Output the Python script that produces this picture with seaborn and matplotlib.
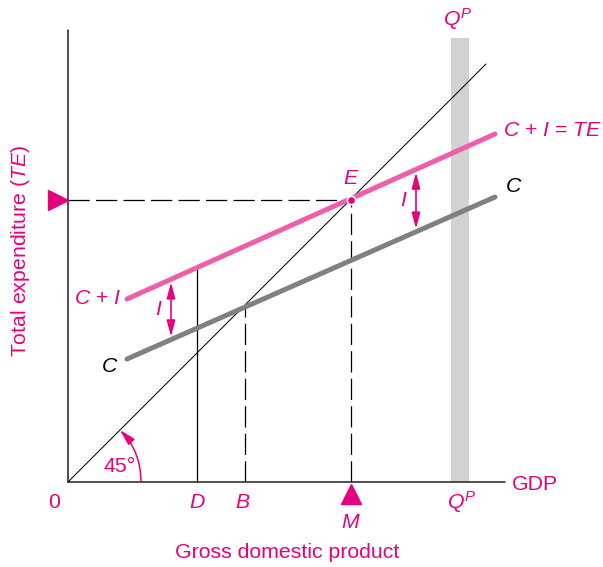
import matplotlib
matplotlib.use("Agg")
import matplotlib.pyplot as plt
import seaborn as sns

# values (units: GDP and spending, origin at 0)
gdp_ends = [59, 427]
c_plus_i = [183, 348]
consumption = [123, 285]
diag = [0, 418]
e_point = (283, 282)
b_level = 177
d_level = 129
qp_level = 392
x_labels = ["D", "B", "M"]

sns.set_style("white")
plt.rcParams["font.family"] = ["Liberation Sans", "DejaVu Sans"]
plt.rcParams["mathtext.fontset"] = "custom"
plt.rcParams["mathtext.rm"] = "Liberation Sans"
plt.rcParams["mathtext.it"] = "Liberation Sans:italic"

pink = "#ef5ea8"
mag = "#e6007e"
grey = "#808083"

fig = plt.figure(figsize=(6.03, 5.67), dpi=100)
ax = fig.add_axes([0, 0, 1, 1])
ax.set_xlim(-68, 535)
ax.set_ylim(-85, 482)
ax.axis("off")

# potential output band
ax.fill_between([qp_level - 9, qp_level + 9], 0, 444, color="#d1d2d4", lw=0, zorder=1)

# axes
ax.plot([0, 0], [0, 452], color="#231f20", lw=1.1, zorder=3)
ax.plot([0, 437], [0, 0], color="#231f20", lw=1.1, zorder=3)

# 45 degree line
sns.lineplot(x=diag, y=diag, ax=ax, color="black", lw=0.75, zorder=2)
sns.lineplot(x=gdp_ends, y=consumption, ax=ax, color=grey, lw=3.6, zorder=4)
sns.lineplot(x=gdp_ends, y=c_plus_i, ax=ax, color=pink, lw=3.6, zorder=5)


def line_at(series, x):
    slope = (series[1] - series[0]) / (gdp_ends[1] - gdp_ends[0])
    return series[0] + slope * (x - gdp_ends[0])


# D, B, M guide lines
ax.plot([d_level, d_level], [0, line_at(c_plus_i, d_level)], color="black", lw=0.9, zorder=2)
dash = dict(color="black", lw=0.9, dashes=(17, 5), zorder=2)
ax.plot([b_level, b_level], [0, b_level], **dash)
ax.plot([e_point[0], e_point[0]], [0, e_point[1]], **dash)
ax.plot([0, e_point[0]], [e_point[1], e_point[1]], **dash)

ax.plot(*e_point, "o", ms=6, mfc=mag, mec="white", mew=1.2, zorder=6)
ax.plot(-10, e_point[1], ">", ms=14, color=mag, clip_on=False, zorder=6)
ax.plot(e_point[0], -12, "^", ms=14, color=mag, clip_on=False, zorder=6)

fs = 15.3
head = "head_length=0.6,head_width=0.16"

# investment arrows
for xa, lx in [(103, 91), (348, 336)]:
    top = line_at(c_plus_i, xa) - 3
    bot = line_at(consumption, xa) + 3
    ax.annotate("", xy=(xa, bot), xytext=(xa, top),
                arrowprops=dict(arrowstyle="<|-|>," + head,
                                color=mag, lw=1.2, mutation_scale=16,
                                shrinkA=0, shrinkB=0))
    ax.text(lx, (top + bot) / 2, "$I$", color=mag, fontsize=fs, ha="center", va="center")

# 45 degree arc
ax.annotate("", xy=(52, 52), xytext=(73, 0),
            arrowprops=dict(arrowstyle="-|>," + head,
                            color=mag, lw=1.1, mutation_scale=16,
                            connectionstyle="arc3,rad=0.2", shrinkA=0, shrinkB=0))
ax.text(52, 15, "45°", color=mag, fontsize=fs, ha="center", va="center")

ax.text(30, 183, "$C$ + $I$", color=mag, fontsize=fs, ha="center", va="center")
ax.text(42, 116, "$C$", color="black", fontsize=fs, ha="center", va="center")
ax.text(283, 304, "$E$", color=mag, fontsize=fs, ha="center", va="center")
ax.text(435, 352, "$C$ + $I$ = $TE$", color=mag, fontsize=fs, ha="left", va="center")
ax.text(437, 295, "$C$", color="black", fontsize=fs, ha="left", va="center")
ax.text(390, 463, "$Q^P$", color=mag, fontsize=fs, ha="center", va="center")
ax.text(-14, -20, "0", color=mag, fontsize=fs, ha="center", va="center")
ax.text(d_level, -20, "$" + x_labels[0] + "$", color=mag, fontsize=fs, ha="center", va="center")
ax.text(b_level - 2, -20, "$" + x_labels[1] + "$", color=mag, fontsize=fs, ha="center", va="center")
ax.text(e_point[0], -41, "$" + x_labels[2] + "$", color=mag, fontsize=fs, ha="center", va="center")
ax.text(qp_level + 2, -20, "$Q^P$", color=mag, fontsize=fs, ha="center", va="center")
ax.text(444, -2, "GDP", color=mag, fontsize=fs, ha="left", va="center")
ax.text(219, -71, "Gross domestic product", color=mag, fontsize=fs, ha="center", va="center")
ax.text(-47, 231, "Total expenditure ($TE$)", color=mag, fontsize=fs, ha="center",
        va="center", rotation=90)

fig.savefig("out.png", dpi=100)
